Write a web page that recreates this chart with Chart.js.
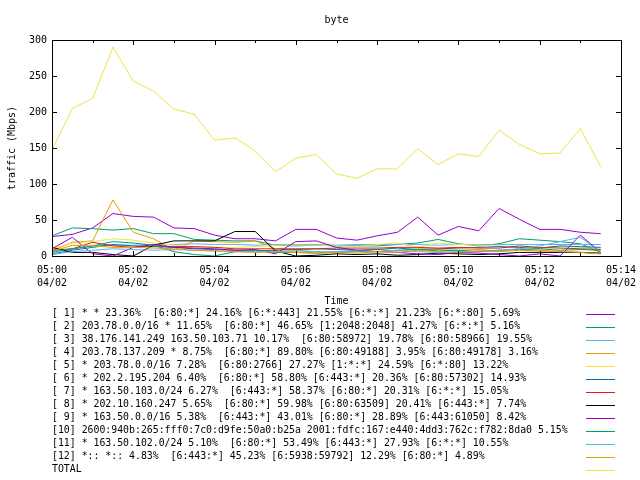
<!DOCTYPE html>
<html>
<head>
<meta charset="utf-8">
<script src="https://cdn.jsdelivr.net/npm/chart.js@4"></script>
<style>
  body { margin: 0; background: #fff; }
</style>
</head>
<body>
<canvas id="byte" width="640" height="480"></canvas>
<script>
// sample times (every 30 s)
const times = ["05:00:00","05:00:30","05:01:00","05:01:30","05:02:00","05:02:30","05:03:00","05:03:30",
  "05:04:00","05:04:30","05:05:00","05:05:30","05:06:00","05:06:30","05:07:00","05:07:30",
  "05:08:00","05:08:30","05:09:00","05:09:30","05:10:00","05:10:30","05:11:00","05:11:30",
  "05:12:00","05:12:30","05:13:00","05:13:30"];
const xTicks = ["05:00","05:02","05:04","05:06","05:08","05:10","05:12","05:14"];
const day = "04/02";

const names = [
  "[ 1] * * 23.36%  [6:80:*] 24.16% [6:*:443] 21.55% [6:*:*] 21.23% [6:*:80] 5.69%",
  "[ 2] 203.78.0.0/16 * 11.65%  [6:80:*] 46.65% [1:2048:2048] 41.27% [6:*:*] 5.16%",
  "[ 3] 38.176.141.249 163.50.103.71 10.17%  [6:80:58972] 19.78% [6:80:58966] 19.55%",
  "[ 4] 203.78.137.209 * 8.75%  [6:80:*] 89.80% [6:80:49188] 3.95% [6:80:49178] 3.16%",
  "[ 5] * 203.78.0.0/16 7.28%  [6:80:2766] 27.27% [1:*:*] 24.59% [6:*:80] 13.22%",
  "[ 6] * 202.2.195.204 6.40%  [6:80:*] 58.80% [6:443:*] 20.36% [6:80:57302] 14.93%",
  "[ 7] * 163.50.103.0/24 6.27%  [6:443:*] 58.37% [6:80:*] 20.31% [6:*:*] 15.05%",
  "[ 8] * 202.10.160.247 5.65%  [6:80:*] 59.98% [6:80:63509] 20.41% [6:443:*] 7.74%",
  "[ 9] * 163.50.0.0/16 5.38%  [6:443:*] 43.01% [6:80:*] 28.89% [6:443:61050] 8.42%",
  "[10] 2600:940b:265:fff0:7c0:d9fe:50a0:b25a 2001:fdfc:167:e440:4dd3:762c:f782:8da0 5.15%",
  "[11] * 163.50.102.0/24 5.10%  [6:80:*] 53.49% [6:443:*] 27.93% [6:*:*] 10.55%",
  "[12] *:: *:: 4.83%  [6:443:*] 45.23% [6:5938:59792] 12.29% [6:80:*] 4.89%",
  "TOTAL"
];

const s1  = [27,30,39,59,55,54,39,38,29,24,24,21,37,37,25,22,28,33,54,29,41,35,66,51,37,37,33,31];
const s2  = [28,39,38,36,38,31,31,23,22,21,21,15,14,15,14,14,14,16,18,23,17,14,17,24,22,20,17,5];
const s3  = [5,10,14,15,15,16,16,17,16,16,15,16,16,16,15,16,16,16,16,15,16,16,16,16,16,16,16,16];
const s4  = [7,19,21,78,33,24,8,21,20,19,21,10,8,6,5,8,9,7,10,9,8,9,7,10,8,6,5,3];
const s5  = [10,18,20,24,22,18,15,13,12,12,13,15,15,15,14,13,16,18,12,18,16,15,14,12,10,13,12,10];
const s6  = [3,8,12,16,14,13,12,10,9,8,7,8,9,10,9,8,9,11,9,10,11,12,13,12,11,14,13,12];
const s7  = [8,10,19,14,12,14,13,13,12,10,10,10,10,10,11,11,11,12,12,11,12,11,11,14,12,11,10,9];
const s8  = [12,5,5,2,0,15,21,21,21,34,34,7,0,1,3,2,3,1,2,4,3,2,3,5,5,5,5,4];
const s9  = [10,26,3,0,12,16,12,11,10,8,9,3,20,21,12,8,6,5,3,2,5,4,2,0,3,0,29,5];
const s10 = [6,10,14,20,18,15,6,2,0,6,8,5,5,4,5,6,6,8,9,7,8,6,8,9,10,8,9,8];
const s11 = [2,6,8,10,9,8,9,8,7,6,6,6,7,6,6,7,6,8,6,5,6,7,8,10,14,20,26,5];
const s12 = [6,15,14,12,12,11,10,8,7,6,5,6,5,4,5,4,6,5,8,6,5,7,6,8,7,6,5,3];
const total = [147,205,219,290,243,229,204,197,161,164,146,117,136,141,114,108,121,121,149,127,142,138,175,155,142,143,177,124];

const series = [s1,s2,s3,s4,s5,s6,s7,s8,s9,s10,s11,s12,total];
const colors = ["#9400d3","#009e73","#56b4e9","#e69f00","#f0e442","#0072b2","#e51e10","#000000",
  "#9400d3","#009e73","#56b4e9","#e69f00","#f0e442"];

function toMin(t) {
  const p = t.split(":");
  return (+p[0] - 5) * 60 + (+p[1]) + (+p[2]) / 60;
}

const FONT = "DejaVu Sans Mono";

const datasets = series.map((vals, i) => ({
  label: names[i],
  data: vals.map((v, j) => ({ x: toMin(times[j]), y: v })),
  borderColor: colors[i],
  borderWidth: 1,
  pointRadius: 0,
  fill: false,
  tension: 0,
  order: series.length - i
}));

const gnuplotFrame = {
  id: "gnuplotFrame",
  beforeDraw(chart) {
    const c = chart.ctx;
    c.save();
    c.fillStyle = "#fff";
    c.fillRect(0, 0, chart.width, chart.height);
    c.restore();
  },
  afterDraw(chart) {
    const c = chart.ctx;
    const a = chart.chartArea;
    const x = chart.scales.x, y = chart.scales.y;
    c.save();
    c.strokeStyle = "#000";
    c.lineWidth = 1;
    c.beginPath();
    c.rect(Math.round(a.left) + 0.5, Math.round(a.top) + 0.5,
           Math.round(a.right - a.left), Math.round(a.bottom - a.top));
    // x ticks every minute, longer on labelled ones
    for (let m = 0; m <= 14; m++) {
      const px = Math.round(x.getPixelForValue(m)) + 0.5;
      const len = m % 2 === 0 ? 5 : 3;
      c.moveTo(px, a.bottom); c.lineTo(px, a.bottom - len);
      c.moveTo(px, a.top); c.lineTo(px, a.top + len);
    }
    for (let v = 0; v <= 300; v += 50) {
      const py = Math.round(y.getPixelForValue(v)) + 0.5;
      c.moveTo(a.left, py); c.lineTo(a.left + 5, py);
      c.moveTo(a.right, py); c.lineTo(a.right - 5, py);
    }
    c.stroke();

    c.fillStyle = "#000";
    c.font = "10px '" + FONT + "'";
    c.textAlign = "center";
    c.textBaseline = "middle";
    c.fillText("byte", (a.left + a.right) / 2, 20);
    c.fillText("Time", (a.left + a.right) / 2, 301);
    c.save();
    c.translate(12, (a.top + a.bottom) / 2);
    c.rotate(-Math.PI / 2);
    c.fillText("traffic (Mbps)", 0, 0);
    c.restore();

    // key below the plot
    c.textAlign = "left";
    c.font = "9.85px '" + FONT + "'";
    chart.data.datasets.forEach((ds, i) => {
      const ry = 313.5 + i * 13;
      c.fillStyle = "#000";
      c.fillText(ds.label, 52, ry);
      c.strokeStyle = ds.borderColor;
      c.beginPath();
      c.moveTo(586, Math.round(ry) + 0.5);
      c.lineTo(615, Math.round(ry) + 0.5);
      c.stroke();
    });
    c.restore();
  }
};

new Chart("byte", {
  type: "line",
  data: { datasets: datasets },
  options: {
    responsive: false,
    animation: false,
    layout: { padding: { left: 0, right: 19, top: 40, bottom: 0 } },
    plugins: { legend: { display: false }, tooltip: { enabled: false }, title: { display: false } },
    scales: {
      x: {
        type: "linear",
        min: 0,
        max: 14,
        afterFit: s => { s.height = 224; s.paddingLeft = 0; s.paddingRight = 0; },
        afterBuildTicks: s => { s.ticks = xTicks.map(t => ({ value: toMin(t + ":00") })); },
        grid: { display: false, drawTicks: false },
        border: { display: false },
        ticks: {
          autoSkip: false,
          maxRotation: 0,
          padding: 8,
          color: "#000",
          font: { family: FONT, size: 10, lineHeight: 1.3 },
          callback: (v, i) => [xTicks[i], day]
        }
      },
      y: {
        min: 0,
        max: 300,
        afterFit: s => { s.width = 52; s.paddingTop = 0; s.paddingBottom = 0; },
        grid: { display: false, drawTicks: false },
        border: { display: false },
        ticks: {
          stepSize: 50,
          padding: 5,
          color: "#000",
          font: { family: FONT, size: 10 }
        }
      }
    }
  },
  plugins: [gnuplotFrame]
});
</script>
</body>
</html>
